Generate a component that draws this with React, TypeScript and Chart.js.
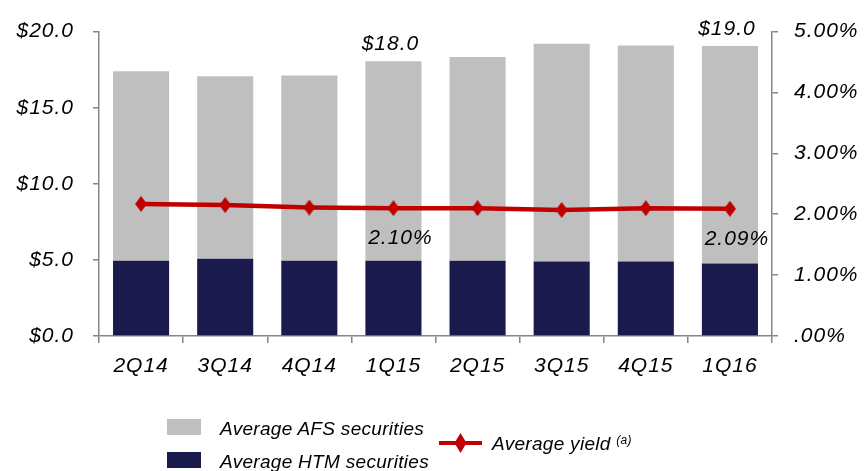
import React, { useEffect, useRef } from 'react';
import { Chart, registerables } from 'chart.js';

Chart.register(...registerables);

const categories = ['2Q14', '3Q14', '4Q14', '1Q15', '2Q15', '3Q15', '4Q15', '1Q16'];
const htmValues = [4.94, 5.07, 4.94, 4.94, 4.94, 4.89, 4.89, 4.76];
const afsValues = [12.46, 12.0, 12.17, 13.11, 13.39, 14.31, 14.2, 14.29];
const yieldValues = [2.17, 2.15, 2.11, 2.1, 2.1, 2.07, 2.1, 2.09];
const totalLabels = ['', '', '', '$18.0', '', '', '', '$19.0'];
const yieldLabels = ['', '', '', '2.10%', '', '', '', '2.09%'];

const FONT = '"Liberation Sans", Arial, sans-serif';
const RED = '#C00000';
const NAVY = '#1B1A4D';
const GRAY = '#BFBFBF';
const AXIS = '#868686';
const SPACING = '1px';

function makeDiamond(w: number, h: number): HTMLCanvasElement {
  const c = document.createElement('canvas');
  c.width = w;
  c.height = h;
  const g = c.getContext('2d')!;
  g.fillStyle = RED;
  g.beginPath();
  g.moveTo(w / 2, 0);
  g.lineTo(w, h / 2);
  g.lineTo(w / 2, h);
  g.lineTo(0, h / 2);
  g.closePath();
  g.fill();
  return c;
}

const spacingPlugin = {
  id: 'spacing',
  beforeLayout(chart: any) {
    chart.ctx.letterSpacing = SPACING;
  },
  beforeDraw(chart: any) {
    chart.ctx.letterSpacing = SPACING;
  },
};

const labelPlugin = {
  id: 'valueLabels',
  afterDatasetsDraw(chart: any) {
    const ctx = chart.ctx;
    const xs = chart.scales.x;
    const ys = chart.scales.y;
    const y1 = chart.scales.y1;
    ctx.save();
    ctx.letterSpacing = SPACING;
    ctx.font = `italic 21px ${FONT}`;
    ctx.fillStyle = '#000';
    ctx.textAlign = 'center';
    ctx.textBaseline = 'alphabetic';
    categories.forEach((_, i) => {
      const px = xs.getPixelForValue(i);
      if (totalLabels[i]) {
        const py = ys.getPixelForValue(htmValues[i] + afsValues[i]);
        ctx.fillText(totalLabels[i], px - 3, py - 11);
      }
      if (yieldLabels[i]) {
        const py = y1.getPixelForValue(yieldValues[i]);
        ctx.fillText(yieldLabels[i], px + 7, py + 36);
      }
    });
    ctx.restore();
  },
};

export default function App() {
  const ref = useRef<HTMLCanvasElement | null>(null);

  useEffect(() => {
    document.body.style.margin = '0';
    const canvas = ref.current!;
    const diamond = makeDiamond(12, 16);
    const tickFont = { family: FONT, size: 21, style: 'italic' as const };
    const chart = new Chart(canvas, {
      type: 'bar',
      data: {
        labels: categories,
        datasets: [
          {
            type: 'bar',
            label: 'Average HTM securities',
            data: htmValues,
            backgroundColor: NAVY,
            yAxisID: 'y',
            order: 1,
            barPercentage: 2 / 3,
            categoryPercentage: 1,
          },
          {
            type: 'bar',
            label: 'Average AFS securities',
            data: afsValues,
            backgroundColor: GRAY,
            yAxisID: 'y',
            order: 1,
            barPercentage: 2 / 3,
            categoryPercentage: 1,
          },
          {
            type: 'line',
            label: 'Average yield',
            data: yieldValues,
            borderColor: RED,
            borderWidth: 4.5,
            pointStyle: diamond as any,
            pointRadius: 7,
            pointBackgroundColor: RED,
            pointBorderWidth: 0,
            yAxisID: 'y1',
            order: 0,
            tension: 0,
          } as any,
        ],
      },
      options: {
        responsive: false,
        maintainAspectRatio: false,
        animation: false,
        devicePixelRatio: 1,
        layout: { padding: { top: 29, left: 0, right: 0, bottom: 0 } },
        plugins: {
          legend: { display: false },
          tooltip: { enabled: false },
        },
        scales: {
          x: {
            stacked: true,
            offset: true,
            grid: {
              display: true,
              drawOnChartArea: false,
              drawTicks: true,
              tickLength: 7,
              color: AXIS,
              lineWidth: 1.5,
              offset: true,
            },
            border: { display: true, color: AXIS, width: 1.5 },
            ticks: { color: '#000', font: tickFont, padding: 11, maxRotation: 0 },
            afterFit(scale: any) {
              scale.height = 135;
            },
          },
          y: {
            stacked: true,
            position: 'left',
            min: 0,
            max: 20,
            grid: {
              display: true,
              drawOnChartArea: false,
              drawTicks: true,
              tickLength: 6,
              color: AXIS,
              lineWidth: 1.5,
            },
            border: { display: true, color: AXIS, width: 1.5 },
            ticks: {
              stepSize: 5,
              color: '#000',
              font: tickFont,
              padding: 19,
              callback: (v: any) => '$' + Number(v).toFixed(1),
            },
            afterFit(scale: any) {
              scale.width = 99;
            },
          },
          y1: {
            position: 'right',
            min: 0,
            max: 5,
            grid: {
              display: true,
              drawOnChartArea: false,
              drawTicks: true,
              tickLength: 6,
              color: AXIS,
              lineWidth: 1.5,
            },
            border: { display: true, color: AXIS, width: 1.5 },
            ticks: {
              stepSize: 1,
              color: '#000',
              font: tickFont,
              padding: 16,
              callback: (v: any) => (Number(v) === 0 ? '.00%' : Number(v).toFixed(2) + '%'),
            },
            afterFit(scale: any) {
              scale.width = 93;
            },
          },
        },
      },
      plugins: [spacingPlugin, labelPlugin],
    });
    return () => chart.destroy();
  }, []);

  const legendText: React.CSSProperties = {
    position: 'absolute',
    fontFamily: FONT,
    fontStyle: 'italic',
    fontSize: 19,
    lineHeight: '19px',
    color: '#000',
    whiteSpace: 'nowrap',
    letterSpacing: '0.3px',
  };

  return (
    <div style={{ position: 'relative', width: 865, height: 471, overflow: 'hidden' }}>
      <canvas ref={ref} width={865} height={471} style={{ display: 'block' }} />
      <div style={{ position: 'absolute', left: 167, top: 419, width: 34, height: 16, background: GRAY }} />
      <div style={{ ...legendText, left: 220, top: 419 }}>Average AFS securities</div>
      <div style={{ position: 'absolute', left: 167, top: 452, width: 34, height: 16, background: NAVY }} />
      <div style={{ ...legendText, left: 220, top: 452 }}>Average HTM securities</div>
      <svg style={{ position: 'absolute', left: 439, top: 432 }} width={43} height={22}>
        <line x1={0} y1={11} x2={43} y2={11} stroke={RED} strokeWidth={4} />
        <polygon points="21.5,1 27.5,11 21.5,21 15.5,11" fill={RED} />
      </svg>
      <div style={{ ...legendText, left: 492, top: 434 }}>
        Average yield <sup style={{ fontSize: 12, verticalAlign: 'top', position: 'relative', top: -3 }}>(a)</sup>
      </div>
    </div>
  );
}
